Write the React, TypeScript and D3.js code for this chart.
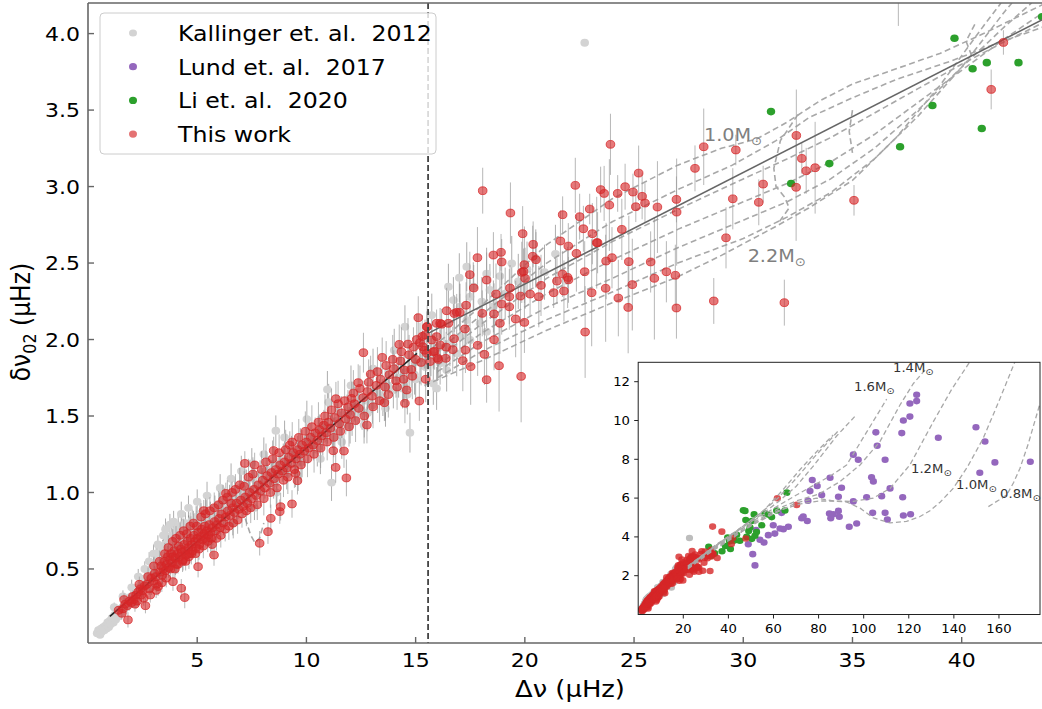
import React from 'react';
import * as d3 from 'd3';

type P3 = [number, number, number];
type P2 = [number, number];

// ---------------- data ----------------
const kallinger2012: P3[] = [
  [0.42,0.08,0.02],[0.48,0.1,0.02],[0.55,0.07,0.02],[0.6,0.11,0.02],[0.63,0.09,0.02],[0.7,0.12,0.02],[0.74,0.1,0.02],[0.8,0.13,0.03],
  [0.84,0.11,0.02],[0.9,0.15,0.03],[0.95,0.12,0.03],[1.0,0.16,0.03],[1.04,0.14,0.02],[1.1,0.18,0.03],[1.16,0.15,0.03],[1.22,0.2,0.03],
  [1.27,0.17,0.03],[1.33,0.21,0.03],[1.38,0.19,0.03],[1.45,0.23,0.03],[1.52,0.21,0.04],[1.58,0.25,0.03],[1.63,0.23,0.04],[1.7,0.27,0.04],
  [1.77,0.25,0.03],[1.84,0.29,0.04],[1.9,0.27,0.04],[1.97,0.32,0.04],[2.05,0.3,0.04],[2.12,0.34,0.05],[2.18,0.36,0.04],[2.26,0.33,0.04],
  [2.35,0.38,0.05],[2.43,0.36,0.04],[2.5,0.41,0.05],[2.58,0.39,0.05],[2.64,0.44,0.05],[2.72,0.42,0.04],[2.8,0.47,0.05],[2.87,0.44,0.05],
  [2.93,0.5,0.06],[3.0,0.47,0.05],[3.06,0.53,0.05],[3.12,0.6,0.06],[3.18,0.51,0.05],[3.24,0.56,0.06],[3.3,0.59,0.05],[3.36,0.53,0.06],
  [3.42,0.63,0.06],[3.48,0.57,0.05],[3.53,0.66,0.06],[3.58,0.61,0.06],[3.62,0.71,0.07],[3.68,0.59,0.05],[3.72,0.67,0.06],[3.78,0.64,0.06],
  [3.83,0.72,0.07],[3.88,0.62,0.06],[3.92,0.81,0.07],[3.97,0.69,0.06],[4.02,0.75,0.07],[4.08,0.66,0.06],[4.13,0.78,0.07],[4.18,0.71,0.06],
  [4.24,0.67,0.06],[4.31,0.76,0.07],[4.38,0.73,0.06],[4.46,0.8,0.07],[4.53,0.71,0.06],[4.61,0.78,0.07],[4.69,0.75,0.06],[4.77,0.82,0.07],
  [4.86,0.77,0.07],[4.95,0.84,0.07],[5.04,0.79,0.07],[5.13,0.86,0.08],[5.22,0.74,0.07],[5.31,0.82,0.07],[5.4,0.87,0.08],[5.5,0.8,0.07],
  [5.6,0.86,0.08],[5.7,0.82,0.07],[5.81,0.9,0.08],[5.92,0.85,0.07],[6.03,0.92,0.08],[6.14,0.88,0.08],[6.25,0.95,0.08],[6.36,0.9,0.07],
  [6.48,0.97,0.08],[6.6,0.93,0.08],[6.72,1.0,0.09],[6.84,0.96,0.08],[6.96,1.03,0.09],[7.1,0.99,0.08],[7.25,1.06,0.09],[7.4,1.02,0.08],
  [7.56,1.09,0.09],[7.72,1.05,0.09],[7.88,1.12,0.09],[8.04,1.08,0.08],[8.2,1.15,0.1],[8.38,1.11,0.09],[8.6,1.404,0.1],[8.56,1.19,0.1],
  [8.75,1.15,0.09],[8.94,1.22,0.1],[9.13,1.19,0.1],[9.32,1.27,0.1],[9.52,1.23,0.1],[9.72,1.31,0.11],[9.92,1.27,0.1],[10.12,1.35,0.11],
  [10.33,1.31,0.1],[10.54,1.39,0.11],[10.75,1.35,0.11],[10.96,1.674,0.12],[10.97,1.43,0.11],[11.15,1.065,0.12],[11.19,1.4,0.11],
  [11.41,1.47,0.12],[11.63,1.44,0.11],[11.86,1.52,0.12],[12.09,1.48,0.11],[12.32,1.56,0.12],[12.55,1.53,0.12],[12.78,1.6,0.12],
  [13.02,1.57,0.12],[13.26,1.65,0.13],[13.5,1.62,0.12],[13.74,1.7,0.13],[13.98,1.67,0.12],[14.22,1.75,0.13],[14.51,2.084,0.14],
  [14.46,1.72,0.13],[14.74,1.391,0.13],[14.7,1.8,0.13],[14.95,1.77,0.13],[15.2,1.85,0.14],[15.45,1.82,0.13],[15.74,2.16,0.14],
  [15.81,1.713,0.14],[15.7,1.9,0.14],[15.96,1.68,0.14],[16.0,1.87,0.14],[16.12,1.845,0.14],[16.3,1.95,0.15],[16.42,1.8,0.14],
  [16.5,2.345,0.15],[16.57,1.975,0.15],[16.73,2.258,0.15],[16.88,1.91,0.15],[17.0,2.404,0.16],[17.03,2.215,0.15],[17.03,2.019,0.15],
  [17.34,2.127,0.16],[17.34,2.476,0.16],[17.49,2.28,0.16],[17.49,1.997,0.15],[17.64,2.345,0.16],[17.95,2.106,0.16],[18.03,2.248,0.16],
  [18.25,2.43,0.17],[18.25,2.051,0.16],[18.4,2.324,0.17],[18.56,2.216,0.17],[18.86,2.415,0.17],[19.1,2.3,0.17],[19.4,2.497,0.18],
  [19.7,2.38,0.18],[20.1,2.46,0.18],[20.5,2.53,0.19],[20.9,2.44,0.18],[21.4,2.56,0.19],[22.74,3.94,0.0],
  [2.2,0.28,0.04],[2.9,0.38,0.05],[3.4,0.45,0.05],[3.7,0.5,0.06],[4.0,0.52,0.06],[4.4,0.58,0.06],[4.9,0.66,0.07],[5.3,0.7,0.07],
  [5.8,0.75,0.07],[6.2,0.8,0.08],[6.8,0.88,0.08],[7.3,0.94,0.09],[7.9,1.0,0.09],[8.5,1.06,0.1],[9.1,1.12,0.1],[9.8,1.2,0.1],
  [10.5,1.28,0.11],[11.3,1.36,0.11],[12.0,1.44,0.12],[12.8,1.52,0.12],[13.6,1.6,0.13],[14.4,1.68,0.13],[15.0,1.74,0.14],
  [1.2,0.25,0.03],[1.6,0.32,0.04],[2.0,0.38,0.05],[2.3,0.45,0.05],[2.6,0.5,0.05],[2.8,0.55,0.06],[3.0,0.6,0.06],[3.2,0.66,0.06],
  [3.45,0.72,0.07],[3.55,0.76,0.07],[3.75,0.79,0.07],[4.27,0.86,0.08],[4.6,0.9,0.08],[5.0,0.94,0.08],[5.45,0.98,0.09],[6.05,1.03,0.09],
  [6.55,1.09,0.1],[7.02,1.14,0.1],[7.5,1.19,0.1],[8.05,1.25,0.11],[9.0,1.36,0.11],[10.02,1.48,0.12],[11.02,1.59,0.12],[12.04,1.7,0.13],
  [13.05,1.81,0.13],[14.02,1.93,0.14],[5.62,0.68,0.07],[6.63,0.8,0.08],[7.62,0.9,0.08],[8.62,1.0,0.09],[9.62,1.11,0.1],[10.64,1.22,0.1],
  [11.62,1.33,0.11],[12.64,1.44,0.12],[13.62,1.55,0.12],[14.62,1.64,0.13],
];

const thisWork: P3[] = [
  [1.4,0.23,0.03],[1.6,0.24,0.03],[1.7,0.27,0.04],[1.8,0.26,0.03],[1.83,0.167,0.05],[1.9,0.29,0.04],[2.0,0.28,0.03],[2.05,0.32,0.04],
  [2.1,0.3,0.05],[2.2,0.33,0.04],[2.25,0.29,0.03],[2.3,0.35,0.05],[2.4,0.37,0.04],[2.45,0.33,0.05],[2.5,0.36,0.04],[2.6,0.39,0.05],
  [2.63,0.26,0.05],[2.7,0.4,0.05],[2.8,0.37,0.04],[2.9,0.44,0.05],[3.0,0.42,0.05],[3.05,0.47,0.05],[3.1,0.45,0.06],[3.15,0.4,0.05],
  [3.21,0.385,0.06],[3.3,0.48,0.05],[3.35,0.52,0.06],[3.4,0.46,0.06],[3.45,0.5,0.05],[3.5,0.55,0.06],[3.55,0.49,0.05],[3.6,0.53,0.06],
  [3.65,0.58,0.07],[3.7,0.51,0.06],[3.75,0.56,0.05],[3.8,0.6,0.06],[3.85,0.54,0.06],[3.89,0.417,0.06],[3.9,0.58,0.07],[3.95,0.62,0.06],
  [4.0,0.57,0.05],[4.05,0.53,0.06],[4.1,0.6,0.06],[4.15,0.65,0.07],[4.2,0.58,0.06],[4.25,0.63,0.05],[4.27,0.374,0.06],[4.3,0.61,0.06],
  [4.35,0.56,0.07],[4.4,0.66,0.06],[4.43,0.313,0.07],[4.45,0.62,0.06],[4.5,0.59,0.05],[4.55,0.68,0.07],[4.6,0.64,0.06],[4.65,0.6,0.06],
  [4.7,0.7,0.07],[4.75,0.66,0.06],[4.8,0.62,0.05],[4.85,0.72,0.06],[4.9,0.68,0.07],[4.95,0.64,0.06],[5.0,0.7,0.06],[5.04,0.515,0.07],
  [5.05,0.74,0.07],[5.1,0.66,0.06],[5.15,0.71,0.06],[5.2,0.76,0.07],[5.25,0.69,0.06],[5.3,0.881,0.07],[5.32,0.73,0.06],[5.35,0.78,0.07],
  [5.4,0.7,0.06],[5.45,0.75,0.06],[5.5,0.72,0.07],[5.55,0.79,0.06],[5.6,0.74,0.06],[5.65,0.7,0.07],[5.7,0.77,0.06],[5.77,0.591,0.07],
  [5.8,0.81,0.07],[5.85,0.75,0.06],[5.9,0.79,0.06],[6.0,0.83,0.07],[6.05,0.77,0.06],[6.1,0.86,0.07],[6.2,0.8,0.06],[6.31,0.994,0.07],
  [6.3,0.84,0.06],[6.4,0.88,0.07],[6.5,0.85,0.06],[6.6,1.0,0.07],[6.62,0.9,0.07],[6.7,0.87,0.06],[6.8,0.93,0.07],[6.9,0.89,0.06],
  [7.0,0.95,0.07],[7.1,0.91,0.07],[7.18,1.19,0.08],[7.2,0.97,0.07],[7.3,0.93,0.06],[7.4,1.0,0.07],[7.5,0.96,0.08],[7.6,1.02,0.07],
  [7.63,1.18,0.08],[7.7,0.98,0.07],[7.8,1.05,0.08],[7.86,0.668,0.08],[7.9,1.01,0.07],[8.0,1.08,0.08],[8.1,1.03,0.07],[8.2,1.11,0.08],
  [8.24,0.744,0.08],[8.3,1.06,0.07],[8.37,0.831,0.09],[8.4,1.13,0.08],[8.5,1.274,0.09],[8.52,1.09,0.07],[8.6,1.15,0.08],[8.7,1.12,0.08],
  [8.78,0.875,0.08],[8.82,0.907,0.09],[8.8,1.18,0.08],[8.9,1.14,0.07],[9.0,1.2,0.09],[9.1,1.16,0.08],[9.2,1.23,0.08],[9.24,1.31,0.09],
  [9.34,0.925,0.09],[9.3,1.19,0.08],[9.4,1.26,0.09],[9.5,1.125,0.09],[9.52,1.22,0.08],[9.59,1.077,0.09],[9.6,1.28,0.09],[9.7,1.25,0.08],
  [9.8,1.31,0.1],[9.9,1.27,0.09],[10.0,1.33,0.09],[10.1,1.29,0.1],[10.2,1.36,0.09],[10.3,1.31,0.08],[10.4,1.39,0.1],[10.5,1.34,0.09],
  [10.6,1.41,0.1],[10.7,1.37,0.09],[10.8,1.44,0.1],[10.9,1.39,0.09],[11.0,1.46,0.1],[11.1,1.42,0.1],[11.23,1.273,0.1],[11.34,1.164,0.1],
  [11.35,1.613,0.11],[11.3,1.49,0.1],[11.5,1.45,0.1],[11.6,1.52,0.11],[11.72,1.271,0.11],[11.8,1.48,0.1],[11.83,1.095,0.12],
  [11.9,1.56,0.11],[12.07,1.615,0.11],[12.0,1.51,0.1],[12.2,1.58,0.11],[12.37,1.718,0.12],[12.4,1.55,0.1],[12.61,1.914,0.13],
  [12.6,1.62,0.11],[12.77,1.441,0.12],[12.8,1.66,0.12],[12.94,1.774,0.12],[13.0,1.63,0.11],[13.2,1.7,0.12],[13.47,1.883,0.13],
  [13.4,1.74,0.12],[13.57,1.587,0.12],[13.6,1.69,0.11],[13.8,1.77,0.12],[14.0,1.81,0.12],[14.1,1.73,0.11],[14.25,1.968,0.13],
  [14.3,1.86,0.12],[14.51,1.583,0.13],[14.59,1.67,0.12],[14.5,1.8,0.12],[14.7,1.9,0.13],[14.8,1.804,0.12],[14.9,1.95,0.13],
  [15.0,1.87,0.12],[15.12,2.143,0.14],[15.17,1.598,0.13],[15.2,1.98,0.13],[15.3,2.02,0.14],[15.4,1.93,0.12],[15.53,2.084,0.14],
  [1.55,0.21,0.04],[1.65,0.3,0.04],[2.15,0.27,0.05],[2.35,0.4,0.05],[2.55,0.31,0.05],[2.75,0.45,0.06],[2.85,0.33,0.05],
  [3.02,0.52,0.06],[3.12,0.36,0.05],[3.28,0.55,0.07],[3.38,0.41,0.06],[3.52,0.6,0.07],[3.58,0.44,0.06],[3.68,0.64,0.08],[3.78,0.5,0.06],
  [3.88,0.68,0.08],[3.98,0.5,0.07],[4.03,0.7,0.08],[4.12,0.53,0.06],[4.22,0.72,0.09],[4.33,0.55,0.07],[4.38,0.75,0.08],[4.47,0.55,0.06],
  [4.52,0.73,0.07],[4.62,0.58,0.08],[4.68,0.78,0.09],[4.73,0.6,0.07],[4.83,0.8,0.08],[4.92,0.6,0.07],[4.98,0.78,0.1],[5.08,0.63,0.07],
  [5.18,0.84,0.09],[5.28,0.65,0.08],[5.38,0.86,0.1],[5.48,0.68,0.07],[5.58,0.88,0.09],[5.68,0.66,0.08],[5.78,0.9,0.1],[5.88,0.7,0.08],
  [5.98,0.92,0.09],[6.08,0.72,0.08],[6.18,0.95,0.1],[6.28,0.76,0.08],[6.38,0.97,0.11],[6.45,0.78,0.09],[6.55,0.93,0.08],[6.65,0.8,0.1],
  [6.75,1.02,0.1],[6.85,0.82,0.09],[6.95,1.05,0.11],[7.05,0.86,0.09],[7.15,1.04,0.1],[7.25,0.88,0.1],[7.35,1.1,0.12],[7.45,0.9,0.1],
  [7.55,1.12,0.11],[7.75,0.92,0.1],[7.95,1.15,0.12],[8.05,0.96,0.11],[8.15,1.2,0.12],[8.35,1.0,0.1],[8.45,1.22,0.12],[8.65,1.03,0.11],
  [8.75,1.26,0.12],[8.95,1.08,0.11],[9.05,1.28,0.13],[9.15,1.1,0.11],[9.35,1.33,0.13],[9.45,1.15,0.12],[9.65,1.36,0.12],[9.75,1.18,0.12],
  [9.95,1.4,0.13],[10.05,1.22,0.12],[10.25,1.43,0.14],[10.35,1.25,0.12],[10.55,1.46,0.13],[10.65,1.29,0.13],[10.85,1.5,0.14],
  [10.95,1.33,0.12],[11.15,1.54,0.14],[11.25,1.36,0.13],[11.45,1.58,0.15],[11.55,1.4,0.13],[11.75,1.6,0.14],[11.95,1.43,0.13],
  [12.15,1.65,0.15],[12.25,1.47,0.14],[12.45,1.68,0.15],[12.65,1.5,0.14],[12.85,1.72,0.15],[13.05,1.56,0.14],[13.25,1.79,0.16],
  [13.35,1.6,0.14],[13.65,1.83,0.16],[13.75,1.64,0.15],[13.95,1.87,0.16],[14.15,1.69,0.15],[14.35,1.92,0.16],[14.45,1.74,0.15],
  [14.65,1.97,0.17],[14.85,1.76,0.15],[15.05,2.0,0.17],[15.25,1.85,0.15],
  [15.87,1.923,0.12],[16.0,1.88,0.1],[16.38,1.877,0.12],[16.4,1.95,0.1],[16.12,2.106,0.1],[15.51,2.084,0.1],[15.96,2.106,0.09],
  [16.19,2.1,0.1],[16.5,2.106,0.11],[16.88,2.178,0.12],[15.43,2.03,0.1],[15.74,1.997,0.1],[15.96,2.019,0.1],[15.32,1.953,0.1],
  [15.51,1.91,0.1],[15.81,1.92,0.11],[16.12,1.964,0.1],[15.66,1.856,0.12],[16.04,1.87,0.11],[15.46,1.74,0.15],
  [18.07,2.973,0.15],[19.34,2.827,0.2],[19.9,2.692,0.18],[17.83,2.535,0.2],[18.56,2.552,0.15],[18.91,2.57,0.12],[18.94,2.507,0.15],
  [20.38,2.622,0.15],[20.36,2.544,0.2],[20.51,2.522,0.18],[19.98,2.489,0.25],[19.86,2.439,0.2],[19.94,2.445,0.15],[20.01,2.4,0.2],
  [17.48,2.424,0.15],[18.25,2.389,0.18],[17.66,2.337,0.15],[18.68,2.297,0.2],[19.32,2.337,0.15],[19.29,2.28,0.18],[19.8,2.284,0.2],
  [20.24,2.297,0.15],[20.64,2.28,0.2],[20.74,2.354,0.2],[18.94,2.232,0.2],[19.29,2.214,0.15],[17.31,2.224,0.15],[17.02,2.178,0.12],
  [16.42,2.188,0.15],[16.77,2.17,0.12],[18.05,2.171,0.15],[18.59,2.167,0.2],[18.86,2.106,0.2],[19.58,2.134,0.25],[19.98,2.112,0.2],
  [17.26,2.069,0.12],[16.76,2.005,0.15],[18.59,1.999,0.2],[17.84,1.962,0.2],[16.7,1.934,0.15],[17.28,1.931,0.15],[18.15,1.903,0.2],
  [17.16,1.862,0.2],[17.52,1.823,0.25],[18.82,1.829,0.3],[18.25,1.737,0.15],[19.83,1.759,0.3],
  [23.92,3.276,0.2],[22.31,3.008,0.18],[23.47,2.98,0.15],[23.63,2.955,0.18],[24.25,2.955,0.12],[24.59,2.999,0.15],[24.95,2.964,0.12],
  [25.21,3.088,0.18],[25.37,2.936,0.15],[25.5,2.892,0.13],[25.08,2.868,0.1],[23.87,2.879,0.3],[22.97,2.853,0.1],[22.51,2.803,0.15],
  [21.73,2.816,0.12],[22.68,2.724,0.15],[23.09,2.692,0.2],[21.63,2.644,0.2],[21.99,2.611,0.15],[22.36,2.563,0.25],[23.29,2.633,0.3],
  [23.33,2.633,0.2],[24.44,2.72,0.2],[26.07,2.866,0.3],[26.94,2.916,0.15],[26.95,2.833,0.35],[27.79,3.119,0.15],[28.19,3.26,0.25],
  [29.66,3.239,0.1],[29.52,2.92,0.2],[30.91,3.016,0.12],[30.71,2.897,0.15],[29.21,2.665,0.2],[32.43,3.334,0.3],[32.68,3.184,0.1],
  [32.88,3.103,0.15],[33.29,3.123,0.3],[32.42,2.995,0.35],[35.07,2.91,0.1],[41.91,3.942,0.08],[41.35,3.635,0.13],[23.72,2.513,0.25],
  [23.99,2.535,0.2],[24.76,2.509,0.3],[25.76,2.507,0.2],[24.92,2.359,0.3],[23.7,2.335,0.35],[23.06,2.306,0.35],[21.72,2.428,0.15],
  [21.47,2.382,0.15],[21.96,2.406,0.2],[22.0,2.39,0.15],[22.74,2.443,0.2],[21.79,2.317,0.2],[21.32,2.306,0.1],[24.28,2.271,0.25],
  [24.73,2.21,0.3],[25.93,2.4,0.4],[26.48,2.443,0.2],[26.89,2.42,0.2],[26.94,2.206,0.2],[28.65,2.252,0.15],[31.88,2.241,0.15],
  [22.76,2.049,0.3],[33.0,4.53,0.2],[37.1,4.27,0.22],[61.7,5.99,0.3],[70.3,5.65,0.3],[47.7,3.92,0.2],
];

const li2020: P2[] = [
  [31.27,3.49],[32.19,3.02],[33.94,3.15],[37.18,3.26],[38.66,3.53],[39.67,3.97],[40.5,3.77],[40.92,3.38],[41.15,3.81],[42.6,3.81],
  [43.68,4.11],[45.1,3.8],[46.6,5.37],[47.4,5.34],[47.7,4.87],[48.1,4.0],[49.0,4.3],[49.6,4.48],[50.4,4.82],[50.4,3.9],[51.4,5.16],
  [51.8,4.06],[52.5,4.25],[54.8,4.6],[56.2,5.2],[57.7,5.15],[59.2,5.02],[61.4,5.36],[65.1,5.36],[65.9,6.28],
];

const lund2017: P2[] = [
  [48.8,3.62],[50.8,3.11],[51.8,2.53],[54,3.85],[55.8,3.71],[52.3,4.35],[57.7,4.09],[59.9,4.6],[60.6,4.17],[62.9,4.43],[64.4,4.4],
  [66.6,4.52],[63.6,5.24],[72.5,4.96],[73.2,5.05],[75,4.82],[75.3,5.86],[76.2,6.36],[77.2,6.93],[79.4,6.62],[81.4,6.16],[85.1,7.05],
  [84.8,5.21],[85.4,4.96],[86.5,5.17],[88.8,5.34],[89.2,5.04],[88.8,6.07],[90.2,6.53],[93.6,4.52],[95.4,5.83],[96.9,4.69],[95.4,8.24],
  [97.6,7.98],[101.3,6.04],[103.5,7.07],[104.3,6.86],[104,5.24],[105.4,9.39],[106,8.7],[108,6.1],[109.5,7.98],[109.5,5.24],[110.5,4.9],
  [111.7,6.5],[116.9,9.35],[117.3,6.04],[117.6,10.0],[117.6,5.1],[120.5,10.2],[120.5,10.88],[120.8,5.17],[123.5,11.0],[123.5,11.33],
  [133.1,9.11],[149.8,9.65],[151.5,7.31],[153.8,8.92],[158.2,7.84],[173.9,7.87],
];

const fitLow: P2[] = [[1.0, 0.19], [15.06, 1.91]];
const fitHigh: P2[] = [[15.57, 2.04], [43.86, 4.103]];
const splitDnu = 15.57;

const track10: P2[] = [[15.8,1.95],[18,2.22],[21,2.62],[24,2.92],[27,3.14],[29,3.25],[30.6,3.31],[32,3.42],[33.5,3.56],[35,3.67],[37,3.77],[39,3.87],[41,4.0],[43.86,4.2]];
const track12: P2[] = [[15.9,1.91],[18,2.16],[21,2.5],[24,2.77],[27,2.98],[29.5,3.14],[31.5,3.3],[33,3.45],[35,3.58],[37,3.7],[39.5,3.82],[41.5,3.93],[43.86,4.05]];
const track14: P2[] = [[16,1.87],[18,2.1],[21,2.4],[24,2.64],[27,2.85],[30,3.05],[32,3.18],[34,3.32],[36,3.48],[38,3.64],[40,3.8],[42,3.95],[43.86,4.08]];
const track16: P2[] = [[16,1.83],[18,2.04],[21,2.3],[24,2.52],[27,2.72],[30,2.9],[32,3.02],[34,3.16],[36,3.34],[38,3.55],[40,3.76],[42,3.97],[43.86,4.15]];
const track18: P2[] = [[16,1.79],[18,1.98],[21,2.21],[24,2.4],[27,2.6],[30,2.78],[32,2.9],[34,3.05],[36,3.25],[38,3.5],[40,3.78],[42,4.05],[43.2,4.2]];
const track20: P2[] = [[16,1.75],[18,1.92],[21,2.13],[24,2.31],[27,2.5],[30,2.66],[32,2.8],[34,2.96],[36,3.18],[38,3.46],[40,3.78],[42,4.15],[42.3,4.2]];
const track22: P2[] = [[15.4,1.7],[18,1.86],[21,2.06],[24,2.24],[27,2.41],[29,2.55],[31.5,2.74],[33,2.86],[35,3.04],[37,3.32],[39,3.66],[41,4.05],[41.8,4.2]];
const hook1: P2[] = [[32.5,3.47],[31.7,3.3],[31.4,3.12],[31.5,3.0],[31.9,2.93],[32.1,2.86],[31.6,2.76]];
const hook2: P2[] = [[35.0,3.5],[34.85,3.36],[35.0,3.22]];
const hook3: P2[] = [[40.6,4.06],[40.2,3.95],[40.5,3.84]];
const bump: P2[] = [[7.2,0.83],[7.45,0.72],[7.65,0.67],[7.85,0.7],[8.05,0.8]];
const mainTracks = [track10, track12, track14, track16, track18, track20, track22, hook1, hook2, hook3, bump];

const inset08: P2[] = [[155.3,5.56],[160,5.9],[163.4,6.16],[166.5,6.8],[169.3,7.53],[173,8.8],[178,10.8]];
const inset10: P2[] = [[22,2.35],[32,3.2],[42,3.95],[52,4.75],[62,5.35],[72,5.7],[80,5.85],[86.5,5.85],[92.4,5.8],[98.4,5.48],[104.3,4.98],[111.7,4.72],[119,4.8],[125,5.05],[129.4,5.35],[134,5.8],[139.7,6.5],[146,7.6],[153,9.08],[160,11],[167.1,13.03]];
const inset12: P2[] = [[22,2.4],[32,3.25],[42,4.0],[52,4.7],[62,5.3],[70,5.75],[79,6.0],[86.5,5.85],[95.4,5.83],[104.3,6.0],[111.7,6.5],[120.5,7.71],[130.9,9.94],[139,11.6],[147.1,13.03]];
const inset14: P2[] = [[22,2.45],[32,3.3],[42,4.05],[52,4.8],[62,5.45],[70,5.85],[80,6.2],[89.5,6.85],[98.4,7.71],[107.2,8.91],[116.1,10.8],[122,11.9],[127.2,12.6]];
const inset16: P2[] = [[22,2.5],[32,3.35],[42,4.1],[52,4.9],[62,5.6],[70,6.15],[80,6.8],[86,7.2],[92.4,7.7],[101.3,9.4],[110.2,11.1]];
const inset18: P2[] = [[24,2.6],[34,3.5],[44,4.3],[54,5.1],[62,5.8],[70,6.6],[78,7.7],[88,9.2],[96,10.2]];
const inset20: P2[] = [[24,2.65],[34,3.55],[44,4.35],[54,5.2],[62,6.0],[70,7.0],[78,8.1],[89,9.5]];
const inset22: P2[] = [[26,2.8],[36,3.7],[46,4.5],[56,5.4],[64,6.4],[72,7.5],[80,8.5],[86.5,9.25]];
const insetTracks = [inset08, inset10, inset12, inset14, inset16, inset18, inset20, inset22];

const mainXTicks = [5, 10, 15, 20, 25, 30, 35, 40];
const mainYTicks = [0.5, 1.0, 1.5, 2.0, 2.5, 3.0, 3.5, 4.0];
const insetXTicks = [20, 40, 60, 80, 100, 120, 140, 160];
const insetYTicks = [2, 4, 6, 8, 10, 12];

const mainLabels = [
  { text: '1.0M', x: 28.2, y: 3.30 },
  { text: '2.2M', x: 30.2, y: 2.505 },
];
const insetLabels = [
  { text: '1.4M', x: 113.0, y: 12.48 },
  { text: '1.6M', x: 95.7, y: 11.5 },
  { text: '1.2M', x: 121.0, y: 7.3 },
  { text: '1.0M', x: 141.0, y: 6.48 },
  { text: '0.8M', x: 160.5, y: 6.0 },
];

const legendItems = [
  { label: 'Kallinger et. al.  2012', color: '#d3d3d3', op: 1 },
  { label: 'Lund et. al.  2017', color: '#9467bd', op: 1 },
  { label: 'Li et. al.  2020', color: '#2ca02c', op: 1 },
  { label: 'This work', color: '#d62728', op: 0.65 },
];

// ---------------- layout ----------------
const W = 1042, H = 709;
const xM = d3.scaleLinear().domain([0, 43.86]).range([88, 1046]);
const yM = d3.scaleLinear().domain([0.016, 4.2]).range([643, 3]);
const xI = d3.scaleLinear().domain([0, 178.2]).range([638.2, 1040]);
const yI = d3.scaleLinear().domain([0, 13]).range([614.5, 362.3]);
const SX = 1.1;
const FONT = 'DejaVu Sans, Verdana, sans-serif';

const lineM = d3.line<P2>().x(d => xM(d[0])).y(d => yM(d[1]));
const lineI = d3.line<P2>().x(d => xI(d[0])).y(d => yI(d[1]));

function T(props: { x: number; y: number; size: number; anchor?: string; fill?: string; children: React.ReactNode }) {
  const { x, y, size, anchor = 'start', fill = '#000', children } = props;
  return (
    <text transform={`translate(${x},${y}) scale(${SX},1)`} fontSize={size} textAnchor={anchor} fill={fill}
      fontFamily={FONT} style={{ whiteSpace: 'pre' }}>
      {children}
    </text>
  );
}

export default function App() {
  const RED = '#d62728';
  return (
    <svg width={W} height={H} style={{ position: 'absolute', left: 0, top: 0, background: '#fff' }}>
      <defs>
        <clipPath id="clipMain"><rect x={88} y={3} width={958} height={640} /></clipPath>
        <clipPath id="clipInset"><rect x={638.2} y={362.3} width={401.8} height={252.2} /></clipPath>
      </defs>
      <rect x={0} y={0} width={W} height={H} fill="#fff" />

      <g clipPath="url(#clipMain)">
        {kallinger2012.map((d, i) => d[2] > 0 ? (
          <line key={'ke' + i} x1={xM(d[0])} x2={xM(d[0])} y1={yM(d[1] - d[2])} y2={yM(d[1] + d[2])}
            stroke="#6a6a6a" strokeOpacity={0.55} strokeWidth={1} />
        ) : null)}
        {kallinger2012.map((d, i) => (
          <ellipse key={'k' + i} cx={xM(d[0])} cy={yM(d[1])} rx={4.3} ry={3.9} fill="#d3d3d3" />
        ))}
        {mainTracks.map((t, i) => (
          <path key={'t' + i} d={lineM(t) || ''} fill="none" stroke="#a8a8a8" strokeWidth={1.6} strokeDasharray="6,3.5" />
        ))}
        {li2020.map((d, i) => (
          <ellipse key={'g' + i} cx={xM(d[0])} cy={yM(d[1])} rx={4.2} ry={3.8} fill="#2ca02c" />
        ))}
        {thisWork.map((d, i) => (
          <line key={'re' + i} x1={xM(d[0])} x2={xM(d[0])} y1={yM(d[1] - d[2])} y2={yM(d[1] + d[2])}
            stroke="#999" strokeOpacity={0.7} strokeWidth={1} />
        ))}
        <path d={lineM(fitLow) || ''} stroke="#222" strokeWidth={1.6} fill="none" />
        <path d={lineM(fitHigh) || ''} stroke="#666" strokeWidth={1.6} fill="none" />
        {thisWork.map((d, i) => (
          <ellipse key={'r' + i} cx={xM(d[0])} cy={yM(d[1])} rx={4.3} ry={3.9} fill={RED} fillOpacity={0.62}
            stroke={RED} strokeOpacity={0.75} strokeWidth={1} />
        ))}
        <line x1={xM(splitDnu)} x2={xM(splitDnu)} y1={3} y2={643} stroke="#444" strokeWidth={1.8} strokeDasharray="6,3" />
      </g>

      {mainLabels.map((l, i) => (
        <T key={'ml' + i} x={xM(l.x)} y={yM(l.y)} size={17.5} fill="#7f7f7f">
          {l.text}<tspan fontSize={12} dy={4}>⊙</tspan>
        </T>
      ))}

      {/* legend */}
      <rect x={100} y={13} width={336} height={141} rx={4} fill="#fff" fillOpacity={0.8} stroke="#cccccc" strokeWidth={1} />
      {legendItems.map((it, i) => (
        <g key={'lg' + i}>
          <ellipse cx={133} cy={33 + i * 33.7} rx={4} ry={3.6} fill={it.color} fillOpacity={it.op} />
          <T x={178} y={33 + i * 33.7 + 8} size={21.5}>{it.label}</T>
        </g>
      ))}

      {/* main spines and ticks */}
      <line x1={88} x2={88} y1={3} y2={643} stroke="#666" strokeWidth={1.6} />
      <line x1={88} x2={1046} y1={643} y2={643} stroke="#666" strokeWidth={1.6} />
      <line x1={88} x2={1046} y1={3} y2={3} stroke="#666" strokeWidth={1.6} />
      {mainXTicks.map(t => (
        <g key={'xt' + t}>
          <line x1={xM(t)} x2={xM(t)} y1={643} y2={637} stroke="#666" strokeWidth={1.4} />
          <T x={xM(t)} y={667} size={20} anchor="middle">{String(t)}</T>
        </g>
      ))}
      {mainYTicks.map(t => (
        <g key={'yt' + t}>
          <line x1={88} x2={94} y1={yM(t)} y2={yM(t)} stroke="#666" strokeWidth={1.4} />
          <T x={80} y={yM(t) + 7.3} size={20} anchor="end">{t.toFixed(1)}</T>
        </g>
      ))}
      <T x={570} y={697} size={23.5} anchor="middle">Δν (μHz)</T>
      <text transform="translate(30,322) rotate(-90) scale(1,1.1)" fontSize={23.5} textAnchor="middle" fontFamily={FONT}>
        δν<tspan fontSize={16} dy={5}>02</tspan><tspan dy={-5}> (μHz)</tspan>
      </text>

      {/* inset */}
      <rect x={638.2} y={362.3} width={401.8} height={252.2} fill="#fff" />
      <g clipPath="url(#clipInset)">
        {kallinger2012.map((d, i) => (
          <ellipse key={'ik' + i} cx={xI(d[0])} cy={yI(d[1])} rx={3.6} ry={3.3} fill="#bdbdbd" />
        ))}
        {lund2017.map((d, i) => (
          <ellipse key={'il' + i} cx={xI(d[0])} cy={yI(d[1])} rx={3.6} ry={3.3} fill="#9467bd" />
        ))}
        {li2020.map((d, i) => (
          <ellipse key={'ig' + i} cx={xI(d[0])} cy={yI(d[1])} rx={3.6} ry={3.3} fill="#2ca02c" />
        ))}
        {thisWork.map((d, i) => (
          <ellipse key={'ir' + i} cx={xI(d[0])} cy={yI(d[1])} rx={3.6} ry={3.3} fill={RED} fillOpacity={0.8} />
        ))}
        {insetTracks.map((t, i) => (
          <path key={'it' + i} d={lineI(t) || ''} fill="none" stroke="#a8a8a8" strokeWidth={1.3} strokeDasharray="5,3" />
        ))}
      </g>
      <rect x={638.2} y={362.3} width={401.8} height={252.2} fill="none" stroke="#222" strokeWidth={1} />
      {insetXTicks.map(t => (
        <g key={'ixt' + t}>
          <line x1={xI(t)} x2={xI(t)} y1={614.5} y2={618.5} stroke="#222" strokeWidth={1} />
          <T x={xI(t)} y={633} size={12} anchor="middle">{String(t)}</T>
        </g>
      ))}
      {insetYTicks.map(t => (
        <g key={'iyt' + t}>
          <line x1={634.2} x2={638.2} y1={yI(t)} y2={yI(t)} stroke="#222" strokeWidth={1} />
          <T x={630} y={yI(t) + 4.3} size={12} anchor="end">{String(t)}</T>
        </g>
      ))}
      {insetLabels.map((l, i) => (
        <T key={'il' + i} x={xI(l.x)} y={yI(l.y)} size={12} fill="#333">
          {l.text}<tspan fontSize={9} dy={3}>⊙</tspan>
        </T>
      ))}
    </svg>
  );
}
